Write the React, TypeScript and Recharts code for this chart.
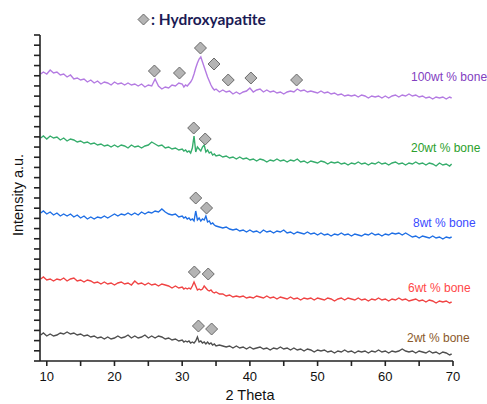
import React from 'react';
import { ComposedChart, Line, Scatter, XAxis, YAxis } from 'recharts';

const twoTheta = [9.1,
  9.5,10,10.5,11,11.5,12,12.5,13,13.5,14,14.5,15,15.5,16,16.5,17,17.5,18,18.5,19,19.5,20,20.5,21,21.5,22,22.5,23,23.5,24,24.5,25,25.5,26,26.5,27,27.5,28,28.5,29,29.5,30,
  30.25,30.5,30.75,31,31.25,31.5,31.75,32,32.25,32.5,32.75,33,33.25,33.5,33.75,34,34.25,34.5,34.75,35,
  35.5,36,36.5,37,37.5,38,38.5,39,39.5,40,40.5,41,41.5,42,42.5,43,43.5,44,44.5,45,45.5,46,46.5,47,47.5,48,48.5,49,49.5,50,50.5,51,51.5,52,52.5,53,53.5,54,54.5,55,55.5,56,56.5,57,57.5,58,58.5,59,59.5,60,60.5,61,61.5,62,62.5,63,63.5,64,64.5,65,65.5,66,66.5,67,67.5,68,68.5,69,69.5,
  69.8];

const bone100 = [286,
  288,286,290,287,288,285,286,283,285,281,282,280,281,278,280,277,279,276,278,277,275,278,276,277,275,277,275,276,274,276,273,275,274,281,274,271,273,272,275,274,277,276,
  273,275,274,276,278,281,286,292,297,301,303,298,293,288,283,279,275,272,270,271,
  268,270,268,269,266,268,266,268,269,272,268,270,271,268,270,268,269,267,268,266,268,269,268,271,269,270,268,269,268,267,269,267,268,266,267,265,266,264,265,264,265,263,265,264,262,264,263,264,262,264,262,264,265,263,265,264,266,264,265,263,264,262,263,261,263,262,263,261,263,
  262];

const bone20 = [222,
  224,221,224,222,223,220,222,219,221,220,218,219,217,218,216,217,215,216,214,215,213,215,213,215,214,212,215,213,214,212,214,215,218,216,214,215,212,213,211,212,210,211,
  209,210,208,209,207,212,224,208,213,211,209,213,215,208,210,207,208,205,206,204,
  205,203,204,202,203,201,203,201,202,200,201,199,201,200,198,200,199,201,199,200,198,200,199,201,198,199,197,199,198,197,199,198,196,198,197,198,196,197,195,197,196,198,196,197,195,197,196,198,196,197,195,197,198,196,197,195,197,196,198,196,197,195,197,196,194,197,195,196,194,
  196];

const bone8 = [147,
  149,146,148,145,147,144,146,144,146,143,145,142,144,141,143,141,143,142,144,142,144,146,144,146,145,147,145,147,145,148,146,148,147,149,148,151,148,146,145,146,143,144,
  142,143,141,142,140,141,139,149,140,142,139,141,140,144,138,139,136,137,135,134,
  133,132,133,131,130,131,129,130,128,130,128,129,127,130,128,129,127,129,128,130,127,128,126,128,127,126,128,126,127,125,127,125,126,124,126,125,127,125,126,124,126,125,124,126,125,127,125,126,124,126,125,127,126,127,125,127,125,123,124,122,124,123,122,124,122,123,121,123,122,
  123];

const bone6 = [81,
  83,80,81,79,81,80,82,79,81,82,79,80,78,80,79,77,78,76,78,76,77,75,77,78,76,77,75,79,76,77,75,77,75,76,74,76,75,74,72,74,72,73,
  71,72,71,72,71,74,78,74,70,71,70,71,74,72,70,69,70,68,67,68,
  66,66,64,65,63,64,63,64,62,63,62,64,63,62,64,62,63,61,63,62,61,63,61,62,60,62,61,62,60,62,61,60,62,61,59,61,62,60,62,61,60,62,60,61,59,61,60,62,60,61,59,61,60,62,60,61,59,60,61,59,60,58,60,59,57,59,58,59,57,
  58];

const bone2 = [25,
  27,24,26,24,25,27,26,28,26,27,25,26,24,25,23,24,22,23,21,23,21,22,24,22,23,25,22,24,22,23,25,22,24,22,24,23,21,22,20,21,19,20,
  18,19,18,19,17,18,17,19,23,18,19,17,18,16,18,16,17,15,16,14,
  15,14,13,14,12,14,12,13,11,13,11,12,13,11,12,10,12,11,13,11,12,10,12,10,11,9,11,10,8,10,9,10,8,9,7,9,8,10,8,9,7,9,8,9,7,9,8,10,8,9,7,9,8,9,11,9,8,9,7,9,8,7,9,7,8,6,8,7,5,
  6];

const hapPeaks100 = [25.9, 29.6, 32.7, 34.7, 36.8, 40.15, 46.9];
const hapHeights100 = [289, 287, 312, 296, 280, 282, 280];
const hapPeaks20 = [31.7, 33.4];
const hapHeights20 = [232, 221];
const hapPeaks8 = [32.0, 33.6];
const hapHeights8 = [162, 152];
const hapPeaks6 = [31.8, 33.85];
const hapHeights6 = [88, 86];
const hapPeaks2 = [32.4, 34.35];
const hapHeights2 = [34, 31];

const xTicks = [10, 15, 20, 25, 30, 35, 40, 45, 50, 55, 60, 65, 70];
const seriesLabels = ['100wt % bone', '20wt % bone', '8wt % bone', '6wt % bone', '2wt % bone'];

const rows = twoTheta.map((x, i) => ({
  x,
  b100: bone100[i],
  b20: bone20[i],
  b8: bone8[i],
  b6: bone6[i],
  b2: bone2[i],
}));

const peakRows = [
  ...hapPeaks100.map((x, i) => ({ x, y: hapHeights100[i] })),
  ...hapPeaks20.map((x, i) => ({ x, y: hapHeights20[i] })),
  ...hapPeaks8.map((x, i) => ({ x, y: hapHeights8[i] })),
  ...hapPeaks6.map((x, i) => ({ x, y: hapHeights6[i] })),
  ...hapPeaks2.map((x, i) => ({ x, y: hapHeights2[i] })),
];

const yTicks = Array.from({ length: 33 }, (_, k) => -1 + k * 10.1875);

const Diamond = (props: any) => {
  const { cx, cy } = props;
  const r = 6;
  return (
    <polygon
      points={`${cx},${cy - r} ${cx + r},${cy} ${cx},${cy + r} ${cx - r},${cy}`}
      fill="#b4b4b4"
      stroke="#6a6a6a"
      strokeWidth={1}
    />
  );
};

const FONT = '"Liberation Sans", Arial, sans-serif';

const labelStyle = (left: number, top: number, color: string): React.CSSProperties => ({
  position: 'absolute',
  left,
  top,
  color,
  fontFamily: FONT,
  fontSize: 12,
  lineHeight: '14px',
  whiteSpace: 'nowrap',
});

export default function App() {
  return (
    <div style={{ position: 'absolute', left: 0, top: 0, width: 487, height: 404, background: '#fff' }}>
      <ComposedChart
        width={487}
        height={404}
        data={rows}
        margin={{ top: 35, right: 34, bottom: 0, left: 0 }}
      >
        <XAxis
          dataKey="x"
          type="number"
          domain={[9, 70]}
          ticks={xTicks}
          tickFormatter={(v: number) => (v % 10 === 0 ? String(v) : '')}
          height={43}
          tickSize={5}
          tickMargin={6}
          stroke="#222"
          strokeWidth={1.6}
          tick={{ fill: '#111', fontSize: 13, fontFamily: FONT }}
          allowDataOverflow
        />
        <YAxis
          type="number"
          domain={[-1, 325]}
          ticks={yTicks}
          width={40}
          tickFormatter={() => ''}
          tickSize={6}
          stroke="#222"
          strokeWidth={1.6}
          allowDataOverflow
        />
        <Line dataKey="b100" stroke="#b47be2" strokeWidth={1.4} dot={false} isAnimationActive={false} />
        <Line dataKey="b20" stroke="#36ad6c" strokeWidth={1.4} dot={false} isAnimationActive={false} />
        <Line dataKey="b8" stroke="#1f6fe5" strokeWidth={1.4} dot={false} isAnimationActive={false} />
        <Line dataKey="b6" stroke="#f04444" strokeWidth={1.4} dot={false} isAnimationActive={false} />
        <Line dataKey="b2" stroke="#4f4f4f" strokeWidth={1.4} dot={false} isAnimationActive={false} />
        <Scatter data={peakRows} dataKey="y" shape={<Diamond />} isAnimationActive={false} />
      </ComposedChart>

      <svg style={{ position: 'absolute', left: 137, top: 13 }} width={13} height={13}>
        <polygon points="6.5,1 12,6.5 6.5,12 1,6.5" fill="#b4b4b4" stroke="#6a6a6a" strokeWidth={1} />
      </svg>
      <div
        style={{
          position: 'absolute',
          left: 151,
          top: 10,
          fontFamily: 'Lato, sans-serif',
          fontWeight: 700,
          fontSize: 15.5,
          lineHeight: '18px',
          color: '#1b1b55',
          whiteSpace: 'nowrap',
        }}
      >
        : Hydroxyapatite
      </div>

      <div style={labelStyle(411, 70, '#8240bf')}>{seriesLabels[0]}</div>
      <div style={labelStyle(411, 141, '#2ca02c')}>{seriesLabels[1]}</div>
      <div style={labelStyle(413, 216, '#3b4cff')}>{seriesLabels[2]}</div>
      <div style={labelStyle(408, 281, '#ff4848')}>{seriesLabels[3]}</div>
      <div style={labelStyle(407, 331, '#8b5a2b')}>{seriesLabels[4]}</div>

      <div
        style={{
          position: 'absolute',
          left: 18,
          top: 195,
          transform: 'translate(-50%, -50%) rotate(-90deg)',
          fontFamily: FONT,
          fontSize: 14.5,
          color: '#111',
          whiteSpace: 'nowrap',
        }}
      >
        Intensity a.u.
      </div>
      <div
        style={{
          position: 'absolute',
          left: 250,
          top: 395,
          transform: 'translate(-50%, -50%)',
          fontFamily: FONT,
          fontSize: 14.5,
          color: '#111',
          whiteSpace: 'nowrap',
        }}
      >
        2 Theta
      </div>
    </div>
  );
}
